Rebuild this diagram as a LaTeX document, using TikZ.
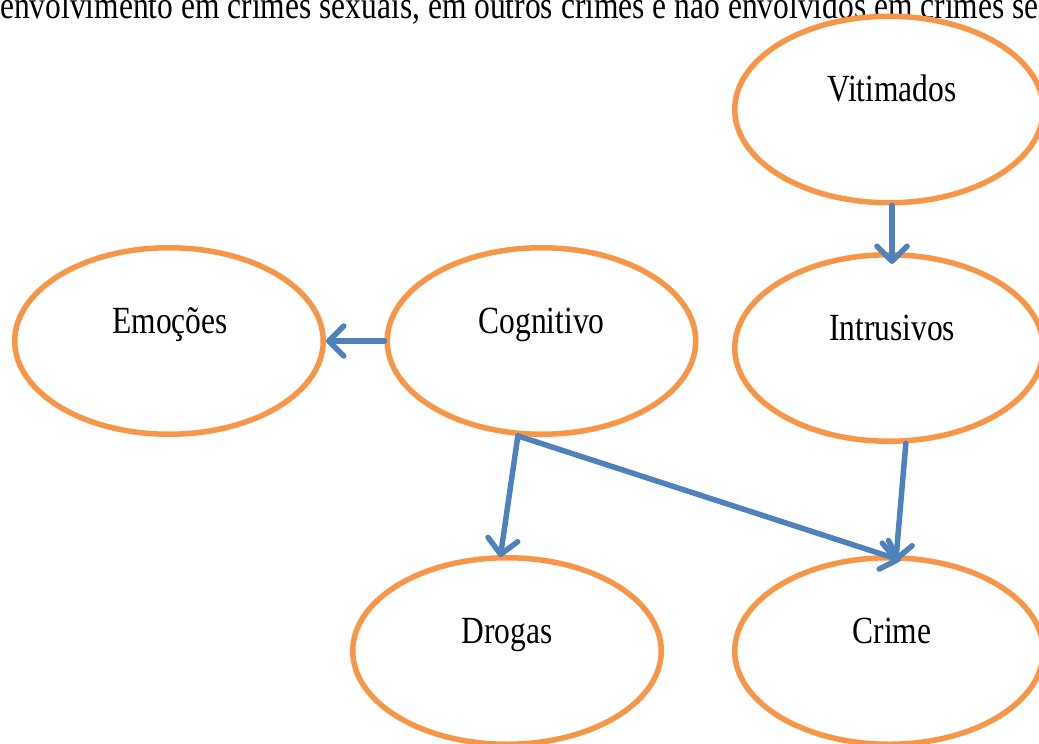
\documentclass[tikz,border=0pt]{standalone}
\usepackage{fontspec}
\setmainfont{Liberation Serif}
\usepackage{graphicx}
\usetikzlibrary{arrows.meta,shapes.geometric}
\definecolor{ovalorange}{HTML}{F79646}
\definecolor{linkblue}{HTML}{4F81BD}
% text in the figure is set slightly stretched in height
\newcommand\tallword[1]{\scalebox{1}[1.22]{#1}}
\begin{document}
\begin{tikzpicture}[x=1pt,y=-1pt,
  oval/.style={ellipse, draw=ovalorange, line width=5.5pt,
    minimum width=308.5pt, minimum height=186.5pt, inner sep=0pt},
  word/.style={font=\fontsize{31.5pt}{38pt}\selectfont, anchor=base, inner sep=0pt},
  link/.style={draw=linkblue, line width=5.5pt, line cap=round,
    -{Straight Barb[length=15pt,width=30pt,line cap=round,line join=round]}}]
\useasboundingbox (0,0) rectangle (1039,744);
\clip (0,0) rectangle (1039,744);

% caption line running off the top of the page
\node[word, anchor=base west] (head) at (0,18)
  {\tallword{envolvimento em crimes sexuais, em outros crimes e não envolvidos em crimes se}};

% ovals
\node[oval] (vit)   at (889,109.5) {};
\node[oval] (intr)  at (889,348)   {};
\node[oval] (emo)   at (169,341)   {};
\node[oval] (cog)   at (541.5,341) {};
\node[oval] (drog)  at (507,651)   {};
\node[oval] (crime) at (889,651)   {};

% labels, set a little above each oval's centre
\node[word] (vitT)   at ([xshift=3pt,yshift=8pt]vit.center)   {\tallword{Vitimados}};
\node[word] (intrT)  at ([xshift=3pt,yshift=8pt]intr.center)  {\tallword{Intrusivos}};
\node[word] (emoT)   at ([xshift=1pt,yshift=8pt]emo.center)   {\tallword{Emoções}};
\node[word] (cogT)   at ([yshift=8pt]cog.center)              {\tallword{Cognitivo}};
\node[word] (drogT)  at ([yshift=8pt]drog.center)             {\tallword{Drogas}};
\node[word] (crimeT) at ([xshift=3pt,yshift=8pt]crime.center) {\tallword{Crime}};

% connectors
\draw[link] ([xshift=3pt]vit.south) -- ([xshift=3pt,yshift=-12pt]intr.north);
\draw[link] (cog.west) -- (emo.east);
\draw[link] (cog.256) -- ([yshift=-2pt]drog.94);
\draw[link] (cog.256) -- ([yshift=-5pt]crime.83);
\draw[link] (intr.280) -- ([yshift=-7pt]crime.86);
\end{tikzpicture}
\end{document}
